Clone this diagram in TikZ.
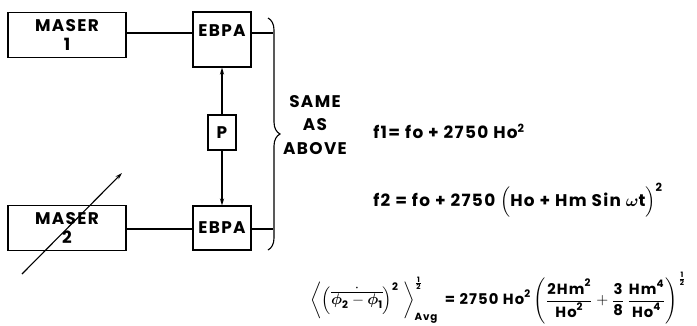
\documentclass[tikz,border=0pt]{standalone}
\usepackage{amsmath}
\usepackage{fontspec}
\setmainfont{Poppins}[LetterSpace=8]
\usepackage{tikz}
\usetikzlibrary{arrows.meta, positioning, decorations.pathreplacing}
\newcommand{\tv}[1]{\text{#1}}
\tikzstyle{maser} = [rectangle, 
minimum width=2.95cm, 
minimum height=1.12cm, 
text centered, 
align=center, 
thick, 
draw=black]
\tikzstyle{amp} = [rectangle, 
minimum width=1.45cm, 
minimum height=1.1cm, 
text centered, 
thick, 
draw=black]
\tikzstyle{phase} = [rectangle, 
minimum width=0.7cm, 
minimum height=0.875cm, 
text centered, 
thick, 
draw=black]
\tikzstyle{line} = [thick]
\tikzstyle{arrow} = [thick,-{Stealth[length=5pt,width=3pt]}]
\tikzstyle{formula} = [anchor=west, inner sep=0pt]

\begin{document}
\begin{tikzpicture}[x=0.025cm, y=-0.025cm, font=\bfseries\fontsize{12}{13}\selectfont]
        \useasboundingbox (0,0) rectangle (697,325);

        % --- Nodes ---
        \node (maser1) [maser] at (67,35) {MASER\\[1pt]1};
        \node (ebpa1) [amp, minimum height=1.375cm, text depth=12pt] at (222,39.5) {EBPA};
        \node (phase) [phase] at (222,132.5) {P};
        \node (ebpa2) [amp] at (222,228) {EBPA};
        \node (maser2) [maser] at (67,228) {MASER\\[1pt]2};

        \node (same) [align=center] at (315,125) {SAME\\[4pt]AS\\[4pt]ABOVE};

        \node (f1) [formula] at (373,131) {f1= fo + 2750 Ho$^{\tv{2}}$};
        \node (f2) [formula] at (373,200) {f2 = fo + 2750 $\Bigl($Ho + Hm Sin $\boldsymbol{\omega}$t$\Bigr)^{\tv{2}}$};
        \node (avg) [formula, font=\bfseries\fontsize{10.5}{12}\selectfont] at (310,298) {$\left\langle \left( \dot{\overline{\boldsymbol{\phi}_{\tv{2}} - \boldsymbol{\phi}_{\tv{1}}}} \right)^{\tv{2}} \;\right\rangle^{\frac{\tv{1}}{\tv{2}}}_{\tv{Avg}}
            \tv{ = 2750 Ho}^{\tv{2}} \left( \dfrac{\tv{2Hm}^{\tv{2}}}{\tv{Ho}^{\tv{2}}} + \dfrac{\tv{3}}{\tv{8}}\,\dfrac{\tv{Hm}^{\tv{4}}}{\tv{Ho}^{\tv{4}}} \right)^{\frac{\tv{1}}{\tv{2}}}$};

        \coordinate (stub1) at (273,33);
        \coordinate (stub2) at (273,229);
        \coordinate (brtop) at (268,18);
        \coordinate (brbot) at (268,250);
        \coordinate (tunestart) at (22,274);
        \coordinate (tuneend) at (122,173);

        % --- Connections ---
        \draw [line] (maser1.east |- stub1) -- (ebpa1.west |- stub1);
        \draw [line] (maser2.east |- stub2) -- (ebpa2.west |- stub2);
        \draw [line] (ebpa1.east |- stub1) -- (stub1);
        \draw [line] (ebpa2.east |- stub2) -- (stub2);

        \draw [arrow] (phase) -- (ebpa1);
        \draw [arrow] (phase) -- (ebpa2);

        % brace for the second set
        \draw [line, decorate, decoration={brace, amplitude=0.3cm}] (brtop) -- (brbot);

        % tuning of maser 2
        \draw [arrow] (tunestart) -- (tuneend);

    \end{tikzpicture}
\end{document}
